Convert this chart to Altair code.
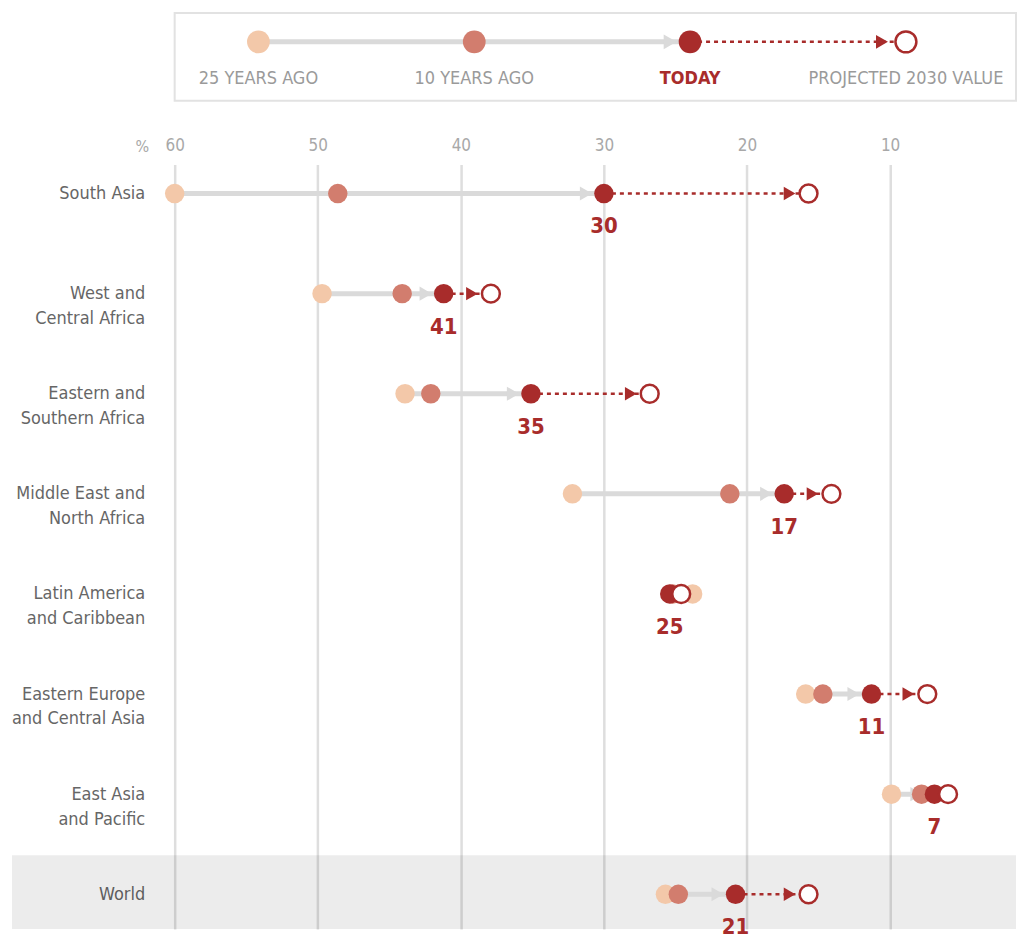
import json
import altair as alt
import pandas as pd

FONT = "DejaVu Sans Condensed, DejaVu Sans, sans-serif"
RED = "#a82c2b"
C25 = "#f3c8a9"
C10 = "#d27d6e"
GREY = "#dadada"

# ---- data ----
regions = ["South Asia", "West and Central Africa", "Eastern and Southern Africa",
           "Middle East and North Africa", "Latin America and Caribbean",
           "Eastern Europe and Central Asia", "East Asia and Pacific", "World"]
region_lines = [["South Asia"], ["West and", "Central Africa"], ["Eastern and", "Southern Africa"],
                ["Middle East and", "North Africa"], ["Latin America", "and Caribbean"],
                ["Eastern Europe", "and Central Asia"], ["East Asia", "and Pacific"], ["World"]]
years25 = [60, 49.7, 43.9, 32.2, 23.8, 15.9, 9.9, 25.7]
years10 = [48.6, 44.1, 42.1, 21.2, 25.2, 14.7, 7.8, 24.8]
today = [30, 41.2, 35.1, 17.4, 25.4, 11.3, 6.9, 20.8]
proj2030 = [15.7, 37.9, 26.8, 14.1, 24.6, 7.4, 5.95, 15.7]
today_labels = ["30", "41", "35", "17", "25", "11", "7", "21"]
x_ticks = [60, 50, 40, 30, 20, 10]

legend_labels = ["25 YEARS AGO", "10 YEARS AGO", "TODAY", "PROJECTED 2030 VALUE"]

df = pd.DataFrame({
    "region": regions,
    "row": list(range(len(regions))),
    "y25": years25,
    "y10": years10,
    "today": today,
    "proj": proj2030,
    "label": today_labels,
})
df["band_top"] = df["row"] - 0.39
df["past_move"] = df["y25"] - df["today"]
df["future_move"] = df["today"] - df["proj"]

W, H = 843, 766
x_scale = alt.Scale(domain=[1.2, 60], reverse=True, nice=False, zero=False)
y_scale = alt.Scale(domain=[-0.289, 7.348], reverse=True, nice=False, zero=False)

x_axis = alt.Axis(orient="top", values=x_ticks, grid=True, gridColor="#dedede", gridWidth=2.5,
                  domain=False, ticks=False, labelFont=FONT, labelFontSize=17,
                  labelColor="#a8a8a8", labelPadding=10, labelFlush=False,
                  title="%", titleX=-26, titleY=-10, titleAlign="right", titleBaseline="bottom",
                  titleAngle=0, titleFont=FONT, titleFontSize=16, titleColor="#a8a8a8",
                  titleFontWeight="normal")
label_expr = json.dumps(region_lines) + "[datum.value]"
y_axis = alt.Axis(values=list(range(len(regions))), labelExpr=label_expr, grid=False,
                  domain=False, ticks=False, labelFont=FONT, labelFontSize=18,
                  labelColor="#666666", labelLineHeight=25, labelPadding=30,
                  labelAlign="right", labelBaseline="middle", labelFlush=False,
                  labelOverlap=False, labelLimit=300, title=None)


def X(field):
    return alt.X(f"{field}:Q", scale=x_scale, axis=x_axis)


def X2(field):
    return alt.X2(f"{field}:Q")


def Y(field="row"):
    return alt.Y(f"{field}:Q", scale=y_scale, axis=y_axis)


base = alt.Chart(df)

band = base.transform_filter(alt.datum.region == "World").mark_rect(
    fill="#000000", opacity=0.075
).encode(x=alt.value(-163), x2=alt.value(W), y=Y("band_top"), y2=alt.value(H))

past_line = base.mark_rule(color=GREY, strokeWidth=5).encode(x=X("y25"), x2=X2("today"), y=Y())
past_arrow = base.transform_filter(alt.datum.past_move > 1.5).mark_point(
    shape="triangle-right", filled=True, color=GREY, size=200, opacity=1, xOffset=-18
).encode(x=X("today"), y=Y())

future_line = base.transform_filter(alt.datum.future_move > 1.5).mark_rule(
    color=RED, strokeWidth=2.5, strokeDash=[4, 4]
).encode(x=X("today"), x2=X2("proj"), y=Y())
future_arrow = base.transform_filter(alt.datum.future_move > 1.5).mark_point(
    shape="triangle-right", filled=True, color=RED, size=180, opacity=1, xOffset=-19
).encode(x=X("proj"), y=Y())

c25 = base.mark_circle(size=380, color=C25, opacity=1).encode(x=X("y25"), y=Y())
c10 = base.mark_circle(size=380, color=C10, opacity=1).encode(x=X("y10"), y=Y())
ctoday = base.mark_circle(size=380, color=RED, opacity=1).encode(x=X("today"), y=Y())
cproj = base.mark_circle(size=320, fill="white", stroke=RED, strokeWidth=2.5, opacity=1).encode(
    x=X("proj"), y=Y())
vlabel = base.mark_text(dy=33, fontSize=22, fontWeight="bold", color=RED, font=FONT).encode(
    x=X("today"), y=Y(), text="label:N")

main = alt.layer(band, past_line, past_arrow, future_line, future_arrow,
                 c25, c10, ctoday, cproj, vlabel).properties(width=W, height=H)

# ---- legend panel ----
leg = pd.DataFrame({"idx": [0, 1, 2, 3], "label": legend_labels})
seg = pd.DataFrame({"start": [0, 2], "end": [2, 3], "kind": ["past", "future"]})
lx_scale = alt.Scale(domain=[-0.388, 3.51], nice=False, zero=False)


def LX(field):
    return alt.X(f"{field}:Q", scale=lx_scale, axis=None)


LY = alt.value(29)
lbase = alt.Chart(leg)
sbase = alt.Chart(seg)
l_past = sbase.transform_filter(alt.datum.kind == "past").mark_rule(color=GREY, strokeWidth=5).encode(
    x=LX("start"), x2=alt.X2("end:Q"), y=LY)
l_past_arrow = sbase.transform_filter(alt.datum.kind == "past").mark_point(
    shape="triangle-right", filled=True, color=GREY, size=220, opacity=1, xOffset=-20).encode(
    x=LX("end"), y=LY)
l_fut = sbase.transform_filter(alt.datum.kind == "future").mark_rule(
    color=RED, strokeWidth=2.5, strokeDash=[4, 4]).encode(x=LX("start"), x2=alt.X2("end:Q"), y=LY)
l_fut_arrow = sbase.transform_filter(alt.datum.kind == "future").mark_point(
    shape="triangle-right", filled=True, color=RED, size=190, opacity=1, xOffset=-24).encode(
    x=LX("end"), y=LY)
l_c = lbase.transform_filter(alt.datum.idx < 3).mark_circle(size=520, opacity=1).encode(
    x=LX("idx"), y=LY,
    color=alt.Color("idx:O", scale=alt.Scale(domain=[0, 1, 2], range=[C25, C10, RED]), legend=None))
l_p = lbase.transform_filter(alt.datum.idx == 3).mark_circle(
    size=440, fill="white", stroke=RED, strokeWidth=2.5, opacity=1).encode(x=LX("idx"), y=LY)
l_txt = lbase.transform_filter(alt.datum.idx != 2).mark_text(
    font=FONT, fontSize=18, color="#9a9a9a", baseline="middle").encode(
    x=LX("idx"), y=alt.value(66), text="label:N")
l_today = lbase.transform_filter(alt.datum.idx == 2).mark_text(
    font=FONT, fontSize=18, fontWeight="bold", color=RED, baseline="middle").encode(
    x=LX("idx"), y=alt.value(66), text="label:N")

legend = alt.layer(l_past, l_past_arrow, l_fut, l_fut_arrow, l_c, l_p, l_txt, l_today).properties(
    width=W, height=88, view=alt.ViewBackground(stroke="#e2e2e2", strokeWidth=2))

chart = alt.vconcat(legend, main, spacing=34).properties(
    padding={"left": 2, "top": 3, "right": 0, "bottom": 0}
).configure_view(stroke="transparent")

chart.save("out.html", embed_options={"renderer": "svg", "actions": False})
